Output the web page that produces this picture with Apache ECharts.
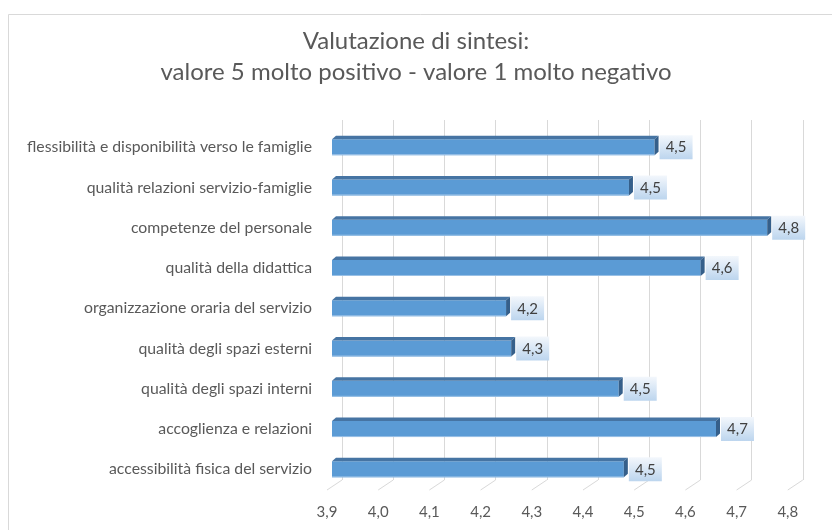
<!DOCTYPE html>
<html lang="it">
<head>
    <meta charset="UTF-8">
    <title>Valutazione di sintesi</title>
    <style>
        html, body { margin: 0; padding: 0; background: #fff; }
        #main { width: 832px; height: 530px; }
    </style>
</head>
<body>
<div id="main"></div>
<script src="https://cdn.jsdelivr.net/npm/echarts@6/dist/echarts.min.js"></script>
<script>
    // dati
    var categories = [
        'flessibilità e disponibilità verso le famiglie',
        'qualità relazioni servizio-famiglie',
        'competenze del personale',
        'qualità della didattica',
        'organizzazione oraria del servizio',
        'qualità degli spazi esterni',
        'qualità degli spazi interni',
        'accoglienza e relazioni',
        'accessibilità fisica del servizio'
    ];
    var values = [4.53, 4.48, 4.75, 4.62, 4.24, 4.25, 4.46, 4.65, 4.47];
    var ticks = [3.9, 4.0, 4.1, 4.2, 4.3, 4.4, 4.5, 4.6, 4.7, 4.8];
    var xMin = 3.9, xMax = 4.8, xStep = 0.1;

    var fontName = 'Lato';
    var textCol = '#595959';

    function fmt(v) {
        return Number(v).toFixed(1).replace('.', ',');
    }

    // barre 3D (faccia frontale, superiore e laterale) + etichetta
    function renderBar(params, api) {
        var idx = api.value(1);
        var start = api.coord([xMin, idx]);
        var end = api.coord([api.value(0), idx]);
        var h = 16, dx = 4, dy = 3.5;
        var top = end[1] - h / 2, bottom = end[1] + h / 2;
        var x0 = start[0], x1 = end[0];
        var bx = x1 + dx + 1;
        return {
            type: 'group',
            children: [
                { type: 'rect', shape: { x: x0, y: top, width: x1 - x0, height: h },
                  style: { fill: '#5b9bd5' } },
                { type: 'polygon', shape: { points: [[x0, top], [x0 + dx, top - dy], [x1 + dx, top - dy], [x1, top]] },
                  style: { fill: '#4674a3' } },
                { type: 'polygon', shape: { points: [[x1, top], [x1 + dx, top - dy], [x1 + dx, bottom - dy], [x1, bottom]] },
                  style: { fill: '#355f8a' } },
                { type: 'line', shape: { x1: x0, y1: bottom - 0.5, x2: x1, y2: bottom - 0.5 },
                  style: { stroke: '#9cc2e6', lineWidth: 1 } },
                { type: 'rect', shape: { x: bx, y: end[1] - 12, width: 33, height: 24 },
                  style: { fill: new echarts.graphic.LinearGradient(0, 0, 0, 1, [
                      { offset: 0, color: '#f3f7fc' },
                      { offset: 1, color: '#bcd5ee' }
                  ]) } },
                { type: 'text', x: bx + 16.5, y: end[1] + 0.5,
                  style: { text: fmt(api.value(0)), fill: '#404040', font: '15px ' + fontName,
                           align: 'center', verticalAlign: 'middle' } }
            ]
        };
    }

    // linee del pavimento (diagonali verso le etichette)
    function renderFloor(params, api) {
        var p = api.coord([api.value(0), 0]);
        return {
            type: 'line',
            shape: { x1: p[0], y1: p[1], x2: p[0] - 15, y2: p[1] + 10 },
            style: { stroke: '#d9d9d9', lineWidth: 1 }
        };
    }

    var myChart = echarts.init(document.getElementById('main'));
    var option = {
        animation: false,
        backgroundColor: '#fff',
        graphic: [{
            type: 'rect', left: 6, top: 12,
            shape: { width: 840, height: 540 },
            style: { fill: 'none', stroke: '#d9d9d9', lineWidth: 1 },
            silent: true
        }],
        title: {
            text: 'Valutazione di sintesi:\nvalore 5 molto positivo - valore 1 molto negativo',
            left: 'center',
            top: 26,
            padding: [0, 0, 0, 12],
            textStyle: {
                fontFamily: fontName,
                fontSize: 24,
                fontWeight: 'normal',
                color: textCol,
                lineHeight: 31
            }
        },
        grid: [
            { left: 342, top: 120, width: 460.8, height: 360 },   // parete di fondo
            { left: 332, top: 127, width: 460.8, height: 362.5 }, // barre
            { left: 327, top: 130, width: 460.8, height: 360 }    // asse frontale
        ],
        xAxis: [
            { gridIndex: 0, type: 'value', min: xMin, max: xMax, interval: xStep,
              axisLine: { show: false }, axisTick: { show: false }, axisLabel: { show: false },
              splitLine: { show: true, lineStyle: { color: '#d9d9d9', width: 1 } } },
            { gridIndex: 1, type: 'value', min: xMin, max: xMax, interval: xStep, show: false },
            { gridIndex: 2, type: 'value', min: xMin, max: xMax, interval: xStep,
              axisLine: { show: false }, axisTick: { show: false }, splitLine: { show: false },
              axisLabel: { margin: 15, color: textCol, fontFamily: fontName, fontSize: 15,
                           formatter: fmt, showMinLabel: true, showMaxLabel: true } }
        ],
        yAxis: [
            { gridIndex: 0, type: 'value', min: 0, max: 1, show: false },
            { gridIndex: 1, type: 'category', data: categories, inverse: true,
              axisLine: { show: false }, axisTick: { show: false }, splitLine: { show: false },
              axisLabel: { margin: 20, color: textCol, fontFamily: fontName, fontSize: 15.8 } },
            { gridIndex: 2, type: 'value', min: 0, max: 1, show: false }
        ],
        series: [
            {
                type: 'custom',
                xAxisIndex: 0, yAxisIndex: 0,
                silent: true,
                renderItem: renderFloor,
                data: ticks.map(function (t) { return [t, 0]; })
            },
            {
                type: 'custom',
                xAxisIndex: 1, yAxisIndex: 1,
                renderItem: renderBar,
                encode: { x: 0, y: 1 },
                data: values.map(function (v, i) { return [v, i]; })
            }
        ]
    };
    myChart.setOption(option);
</script>
</body>
</html>
